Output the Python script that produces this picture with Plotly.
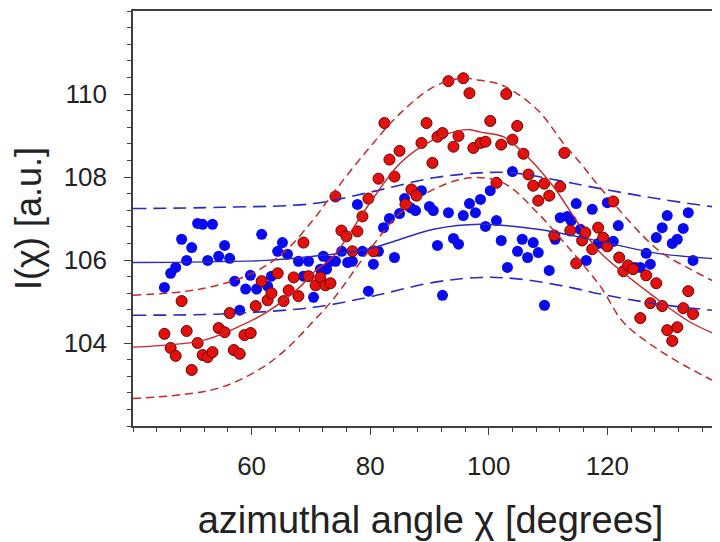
import plotly.graph_objects as go

# ---- scatter data (angle in degrees, intensity in a.u.) ----
blue_x = [45.3, 46.35, 47.2, 48.2, 49.05, 49.9, 50.9, 51.75, 53.4, 52.6, 54.45, 55.45, 56.3, 57.15,
          58.0, 59.0, 59.8, 60.85, 61.7, 62.7, 63.35, 64.4, 65.2, 66.05, 67.9, 69.6, 68.75, 70.45,
          72.1, 73.3, 74.15, 71.6, 72.65, 75.2, 76.2, 77.0, 78.7, 81.4, 80.55, 79.7, 77.85, 82.25,
          83.25, 84.1, 84.95, 85.8, 86.8, 87.65, 88.65, 90.0, 90.65, 93.2, 95.7, 96.75, 97.75, 98.6,
          100.25, 101.3, 99.45, 104.0, 91.35, 94.05, 94.9, 102.1, 105.65, 107.5, 104.85, 106.55,
          108.35, 103.15, 110.2, 111.2, 112.05, 113.25, 113.9, 92.2, 109.4, 114.75, 117.45, 120.0,
          115.45, 121.85, 118.45, 119.3, 121.0, 116.45, 126.55, 127.25, 124.7, 125.55, 130.1,
          133.65, 129.25, 132.8, 128.25, 130.95, 131.8, 134.45]
blue_y = [105.34, 105.68, 105.82, 106.5, 105.99, 106.3, 106.88, 106.86, 106.86, 105.99, 106.09, 106.35,
          106.04, 105.49, 104.79, 105.3, 105.63, 105.3, 106.62, 105.37, 105.61, 106.21, 106.42, 106.14,
          105.97, 105.97, 105.61, 105.1, 106.09, 105.97, 105.97, 105.78, 105.78, 106.21, 105.94, 105.97,
          106.21, 106.21, 105.9, 105.25, 107.34, 106.78, 107.0, 106.06, 107.12, 107.48, 107.26, 107.19,
          107.67, 107.29, 107.19, 107.14, 107.07, 107.36, 107.14, 107.46, 107.67, 106.95, 106.81, 108.13,
          106.35, 106.52, 106.38, 106.47, 106.5, 106.42, 106.21, 106.06, 106.18, 105.82, 105.75, 106.5,
          107.02, 107.05, 106.95, 105.15, 104.91, 107.36, 107.22, 107.38, 106.74, 106.83, 106.4, 106.4,
          106.45, 105.99, 106.16, 105.9, 105.82, 105.82, 107.07, 107.14, 106.78, 106.76, 106.54, 106.4,
          106.5, 105.99]

red_x = [45.3, 46.35, 47.2, 48.2, 49.05, 49.9, 50.9, 51.75, 52.6, 53.4, 54.45, 55.45, 56.3, 57.0,
         58.0, 58.8, 59.85, 60.7, 61.7, 62.7, 63.35, 64.4, 65.4, 66.25, 67.1, 67.9, 69.6, 70.8, 71.6,
         72.45, 73.3, 68.75, 74.15, 75.15, 76.0, 77.0, 77.85, 78.7, 79.7, 80.55, 81.4, 82.4, 83.25,
         84.1, 84.95, 85.95, 86.95, 87.8, 88.65, 89.5, 90.5, 91.35, 92.2, 93.2, 95.7, 96.75, 94.05,
         94.9, 97.4, 98.6, 99.45, 100.25, 101.3, 102.1, 102.95, 104.0, 104.8, 105.85, 106.7, 107.5,
         108.35, 109.35, 110.2, 111.05, 112.05, 112.75, 113.75, 114.75, 115.75, 116.3, 117.45, 118.45,
         119.3, 120.0, 121.0, 122.0, 122.7, 123.5, 124.35, 126.55, 128.25, 125.55, 127.25, 129.25,
         130.1, 131.8, 130.95, 132.8, 133.65, 134.45]
red_y = [104.22, 103.88, 103.69, 105.01, 104.29, 103.35, 104.0, 103.71, 103.66, 103.78, 104.36, 104.26,
         104.72, 103.83, 103.74, 104.19, 104.24, 104.89, 105.49, 105.03, 105.2, 105.68, 105.01, 105.27,
         105.58, 105.13, 105.61, 105.39, 105.58, 105.39, 105.44, 106.42, 107.53, 106.71, 106.57, 106.21,
         106.69, 107.05, 107.48, 106.21, 107.96, 109.3, 108.42, 108.01, 108.63, 107.34, 107.7, 107.55,
         108.82, 109.3, 108.34, 108.97, 109.06, 110.31, 110.38, 110.02, 108.73, 108.99, 108.7, 108.82,
         108.85, 109.35, 107.86, 108.78, 110.0, 108.9, 109.23, 108.56, 108.06, 107.79, 107.43, 107.84,
         107.55, 106.59, 107.77, 108.58, 106.71, 105.92, 106.47, 106.66, 106.26, 106.78, 106.54, 106.33,
         107.41, 106.06, 105.73, 105.87, 105.78, 105.63, 105.44, 104.6, 104.96, 104.89, 104.31, 104.38,
         104.05, 104.84, 105.25, 104.7]

# ---- fitted curves ----
red_fit_x = [40, 51.4, 57.0, 62.5, 68.3, 70.45, 73.8, 79.55, 85.1, 90.7, 94.7, 96.9, 98.6, 102.45,
             106.5, 110.9, 115.45, 118.8, 128.4, 134.0, 139, 140.5]
red_fit_y = [103.9, 104.05, 104.34, 104.74, 105.37, 105.7, 106.09, 107.29, 108.34, 108.9, 109.11,
             109.14, 109.08, 108.97, 108.49, 107.77, 106.81, 106.18, 105.06, 104.5, 104.17, 104.1]
red_up_x = [40, 51.4, 59.8, 65.4, 70.45, 73.8, 79.55, 85.1, 90.7, 95.2, 98.6, 102.45, 108.2, 112.55,
            115.95, 118.8, 128.4, 134.0, 139, 140.5]
red_up_y = [105.15, 105.3, 105.66, 106.18, 106.98, 107.62, 108.65, 109.54, 110.17, 110.38, 110.33,
            110.2, 109.62, 108.82, 108.25, 107.74, 106.26, 105.78, 105.42, 105.35]
red_lo_x = [40, 54.1, 61.5, 65.9, 70.45, 73.8, 79.55, 85.1, 90.7, 96.9, 102.45, 108.2, 113.25,
            118.8, 122.7, 128.4, 134.0, 139, 140.5]
red_lo_y = [102.66, 102.9, 103.38, 103.86, 104.53, 105.06, 106.18, 107.14, 107.7, 107.98,
            107.86, 107.14, 106.33, 105.37, 104.5, 103.86, 103.38, 103.02, 102.95]
blue_fit_x = [40, 62.5, 70.45, 79.55, 85.1, 90.7, 98.6, 108.2, 118.8, 128.4, 139, 140.5]
blue_fit_y = [105.94, 105.99, 106.09, 106.26, 106.5, 106.74, 106.86, 106.74, 106.45, 106.16, 106.02, 106.0]
blue_up_x = [40, 55, 70.45, 79.55, 90.7, 98.6, 104.1, 110.9, 118.8, 128.4, 139, 140.5]
blue_up_y = [107.24, 107.27, 107.36, 107.62, 107.98, 108.1, 108.1, 107.94, 107.72, 107.48, 107.26, 107.24]
blue_lo_x = [40, 55, 70.45, 79.55, 90.7, 98.6, 105.3, 113.75, 118.8, 128.4, 139, 140.5]
blue_lo_y = [104.67, 104.7, 104.86, 105.1, 105.46, 105.58, 105.54, 105.34, 105.18, 104.94, 104.77, 104.75]

x_ticks = [60, 80, 100, 120]
y_ticks = [104, 106, 108, 110]

BLUE_PT = "#0a0af0"
RED_PT = "#e4100c"
RED_LINE = "#c8282a"
BLUE_LINE = "#2a2ac0"
FONT = "Liberation Sans, Arial"

fig = go.Figure()
fig.add_trace(go.Scatter(x=blue_x, y=blue_y, mode="markers",
                         marker=dict(size=11, color=BLUE_PT, line=dict(width=0))))
fig.add_trace(go.Scatter(x=red_x, y=red_y, mode="markers",
                         marker=dict(size=11, color=RED_PT, line=dict(width=1, color="#6a0000"))))

for xs, ys, col, dash, w in [
    (blue_up_x, blue_up_y, BLUE_LINE, "13px,7px", 1.6),
    (blue_lo_x, blue_lo_y, BLUE_LINE, "13px,7px", 1.6),
    (blue_fit_x, blue_fit_y, BLUE_LINE, "solid", 1.4),
    (red_up_x, red_up_y, RED_LINE, "8px,5px", 1.5),
    (red_lo_x, red_lo_y, RED_LINE, "8px,5px", 1.5),
    (red_fit_x, red_fit_y, RED_LINE, "solid", 1.4),
]:
    fig.add_trace(go.Scatter(x=xs, y=ys, mode="lines",
                             line=dict(color=col, width=w, dash=dash, shape="spline", smoothing=1.0)))

axis_common = dict(showgrid=False, zeroline=False, showline=True, linecolor="#404040", linewidth=1.5,
                   ticks="outside", ticklen=7, tickwidth=1.2, tickcolor="#404040",
                   tickfont=dict(family=FONT, size=26, color="#222222"))

fig.update_layout(
    width=720, height=534,
    margin=dict(l=125, r=0, t=3, b=116, autoexpand=False),
    paper_bgcolor="white", plot_bgcolor="white",
    showlegend=False,
    xaxis=dict(range=[40, 140.35], tickvals=x_ticks, mirror=True, ticklabelstandoff=9,
               minor=dict(dtick=4, tick0=40, ticks="outside", ticklen=4, tickcolor="#404040"),
               title=dict(text="azimuthal angle χ [degrees]", standoff=26,
                          font=dict(family=FONT, size=38, color="#222222")),
               **axis_common),
    yaxis=dict(range=[102, 112], tickvals=y_ticks, ticklabelstandoff=12,
               minor=dict(dtick=0.4, tick0=102, ticks="outside", ticklen=4, tickcolor="#404040"),
               title=dict(text="I(χ) [a.u.]", standoff=18,
                          font=dict(family=FONT, size=36, color="#222222")),
               **axis_common),
)

fig.write_html("out.html")
